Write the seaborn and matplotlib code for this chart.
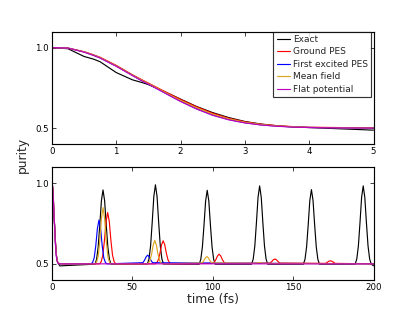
import numpy as np
import pandas as pd
import matplotlib
matplotlib.use("Agg")
import matplotlib.pyplot as plt
import seaborn as sns

# ---------------- data ----------------
series_names = ["Exact", "Ground PES", "First excited PES", "Mean field", "Flat potential"]
series_colors = ["black", "red", "blue", "goldenrod", "#bf00bf"]

# top panel: early-time decay (fs)
t_top = [0, 0.25, 0.5, 0.65, 0.75, 1.0, 1.25, 1.4, 1.5, 1.75, 2.0, 2.25, 2.5,
         2.75, 3.0, 3.25, 3.5, 3.75, 4.0, 4.5, 5.0]
exact_top = [1.0, 0.993, 0.945, 0.928, 0.912, 0.845, 0.800, 0.783, 0.770, 0.727,
             0.680, 0.634, 0.596, 0.565, 0.541, 0.525, 0.514, 0.507, 0.503, 0.495, 0.487]
ground_top = [1.0, 0.997, 0.975, 0.955, 0.940, 0.890, 0.832, 0.800, 0.780, 0.728,
              0.678, 0.632, 0.592, 0.561, 0.539, 0.524, 0.515, 0.509, 0.505, 0.503, 0.502]
first_top = [1.0, 0.997, 0.973, 0.952, 0.936, 0.885, 0.828, 0.794, 0.774, 0.720,
             0.667, 0.620, 0.581, 0.553, 0.533, 0.520, 0.512, 0.507, 0.504, 0.501, 0.500]
mean_top = [1.0, 0.997, 0.974, 0.953, 0.938, 0.887, 0.830, 0.797, 0.777, 0.724,
            0.672, 0.626, 0.586, 0.557, 0.536, 0.522, 0.513, 0.508, 0.504, 0.502, 0.501]
flat_top = [1.0, 0.997, 0.972, 0.951, 0.935, 0.884, 0.827, 0.793, 0.773, 0.719,
            0.665, 0.618, 0.579, 0.551, 0.532, 0.519, 0.511, 0.506, 0.503, 0.501, 0.500]

# bottom panel: long-time revivals (fs), continues after the decay above
exact_t_late = [6,
                26.8, 27.8, 28.8, 29.8, 30.8, 31.8, 32.8, 33.8, 34.8, 35.8, 36.8,
                59.4, 60.4, 61.4, 62.4, 63.4, 64.4, 65.4, 66.4, 67.4, 68.4, 69.4,
                91.6, 92.6, 93.6, 94.6, 95.6, 96.6, 97.6, 98.6, 99.6, 100.6, 101.6,
                124.2, 125.2, 126.2, 127.2, 128.2, 129.2, 130.2, 131.2, 132.2, 133.2, 134.2,
                156.4, 157.4, 158.4, 159.4, 160.4, 161.4, 162.4, 163.4, 164.4, 165.4, 166.4,
                188.6, 189.6, 190.6, 191.6, 192.6, 193.6, 194.6, 195.6, 196.6, 197.6, 198.6,
                200]
exact_v_late = [0.488,
                0.498, 0.528, 0.605, 0.741, 0.891, 0.958, 0.891, 0.741, 0.605, 0.528, 0.498,
                0.499, 0.531, 0.613, 0.759, 0.918, 0.990, 0.918, 0.759, 0.613, 0.531, 0.499,
                0.498, 0.528, 0.605, 0.740, 0.889, 0.956, 0.889, 0.740, 0.605, 0.528, 0.498,
                0.498, 0.530, 0.611, 0.755, 0.912, 0.983, 0.912, 0.755, 0.611, 0.530, 0.498,
                0.498, 0.528, 0.606, 0.742, 0.893, 0.960, 0.893, 0.742, 0.606, 0.528, 0.498,
                0.498, 0.530, 0.611, 0.755, 0.912, 0.983, 0.912, 0.755, 0.611, 0.530, 0.498,
                0.488]

ground_t_late = [6, 29.7, 30.7, 31.7, 32.7, 33.7, 34.7, 35.7, 36.7, 37.7, 38.7, 39.7,
                 64.2, 65.2, 66.2, 67.2, 68.2, 69.2, 70.2, 71.2, 72.2, 73.2, 74.2,
                 100, 101, 102, 103, 104, 105, 106, 107, 108,
                 135.7, 136.7, 137.7, 138.7, 139.7, 140.7, 141.7,
                 170.2, 171.2, 172.2, 173.2, 174.2, 175.2, 176.2, 200]
ground_v_late = [0.5, 0.5, 0.514, 0.555, 0.646, 0.762, 0.818, 0.762, 0.646, 0.555, 0.514, 0.5,
                 0.5, 0.506, 0.525, 0.565, 0.618, 0.643, 0.618, 0.565, 0.525, 0.506, 0.5,
                 0.503, 0.510, 0.527, 0.549, 0.560, 0.549, 0.527, 0.510, 0.503,
                 0.505, 0.514, 0.525, 0.530, 0.525, 0.514, 0.505,
                 0.503, 0.509, 0.516, 0.519, 0.516, 0.509, 0.503, 0.5]

first_t_late = [6, 24.3, 25.3, 26.3, 27.3, 28.3, 29.3, 30.3, 31.3, 32.3, 33.3, 34.3,
                56.6, 57.6, 58.6, 59.6, 60.6, 61.6, 62.6, 200]
first_v_late = [0.5, 0.5, 0.508, 0.537, 0.612, 0.718, 0.772, 0.718, 0.612, 0.537, 0.508, 0.5,
                0.507, 0.522, 0.543, 0.554, 0.543, 0.522, 0.507, 0.5]

mean_t_late = [6, 26.8, 27.8, 28.8, 29.8, 30.8, 31.8, 32.8, 33.8, 34.8, 35.8, 36.8,
               59, 60, 61, 62, 63, 64, 65, 66, 67, 68, 69,
               93.4, 94.4, 95.4, 96.4, 97.4, 98.4, 99.4,
               127, 128, 129, 130, 131, 200]
mean_v_late = [0.5, 0.5, 0.510, 0.547, 0.643, 0.779, 0.849, 0.779, 0.643, 0.547, 0.510, 0.5,
               0.5, 0.504, 0.520, 0.559, 0.616, 0.645, 0.616, 0.559, 0.520, 0.504, 0.5,
               0.506, 0.518, 0.536, 0.545, 0.536, 0.518, 0.506,
               0.503, 0.506, 0.508, 0.506, 0.503, 0.5]

flat_t_late = [6, 200]
flat_v_late = [0.5, 0.5]

top_vals = [exact_top, ground_top, first_top, mean_top, flat_top]
late_t = [exact_t_late, ground_t_late, first_t_late, mean_t_late, flat_t_late]
late_v = [exact_v_late, ground_v_late, first_v_late, mean_v_late, flat_v_late]

rows_top, rows_bot = [], []
for name, tv, lt, lv in zip(series_names, top_vals, late_t, late_v):
    for t, v in zip(t_top, tv):
        rows_top.append((name, t, v))
        rows_bot.append((name, t, v))
    for t, v in zip(lt, lv):
        rows_bot.append((name, t, v))
df_top = pd.DataFrame(rows_top, columns=["series", "time", "purity"])
df_bot = pd.DataFrame(rows_bot, columns=["series", "time", "purity"])

# ---------------- style ----------------
sns.set_style("white")
plt.rcParams.update({
    "font.family": ["DejaVu Sans"],
    "xtick.direction": "in", "ytick.direction": "in",
    "xtick.top": True, "ytick.right": True,
    "xtick.bottom": True, "ytick.left": True,
    "xtick.major.size": 6, "ytick.major.size": 6,
    "xtick.major.width": 1.0, "ytick.major.width": 1.0,
    "axes.edgecolor": "black", "axes.linewidth": 1.6,
    "xtick.labelsize": 12, "ytick.labelsize": 12,
})

DPI = 51.875
fig = plt.figure(figsize=(415 / DPI, 312 / DPI), dpi=DPI)
ax1 = fig.add_axes([0.125, 0.538, 0.775, 0.361])
ax2 = fig.add_axes([0.125, 0.1026, 0.775, 0.362])

palette = dict(zip(series_names, series_colors))
sns.lineplot(data=df_top, x="time", y="purity", hue="series", hue_order=series_names,
             palette=palette, estimator=None, sort=False, lw=1.6, ax=ax1)
sns.lineplot(data=df_bot, x="time", y="purity", hue="series", hue_order=series_names,
             palette=palette, estimator=None, sort=False, lw=1.6, ax=ax2, legend=False)

for ax in (ax1, ax2):
    ax.set_ylim(0.4, 1.1)
    ax.set_yticks([0.5, 1.0])
    ax.set_yticklabels(["0.5", "1.0"])
    ax.set_xlabel("")
    ax.set_ylabel("")
    ax.tick_params(colors="black", pad=4)

ax1.set_xlim(0, 5)
ax1.set_xticks([0, 1, 2, 3, 4, 5])
ax2.set_xlim(0, 200)
ax2.set_xticks([0, 50, 100, 150, 200])

ax2.set_xlabel("time (fs)", fontsize=17, labelpad=2)
fig.text(0.055, 0.503, "purity", rotation=90, fontsize=17, ha="center", va="center")

leg = ax1.legend(loc="upper right", bbox_to_anchor=(0.992, 1.0), borderaxespad=0,
                 fontsize=12.5, handlelength=1.5, handletextpad=0.3,
                 labelspacing=0.4, borderpad=0.35, frameon=True, fancybox=False)
leg.get_frame().set_edgecolor("black")
leg.get_frame().set_linewidth(1.6)
for line in leg.get_lines():
    line.set_linewidth(1.6)

fig.savefig("out.png", dpi=DPI)
